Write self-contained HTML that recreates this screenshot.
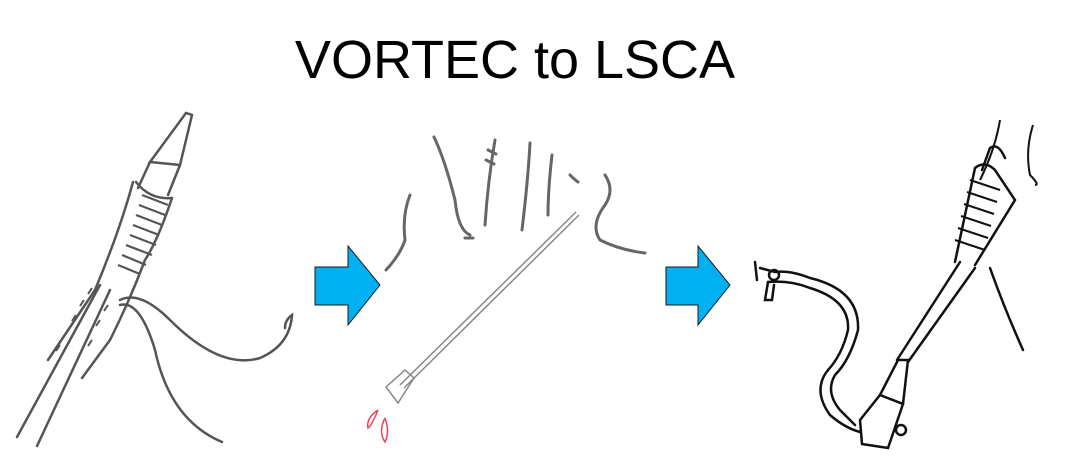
<!DOCTYPE html>
<html><head><style>
body{margin:0;background:#fff;width:1080px;height:471px;overflow:hidden;font-family:"Liberation Sans",sans-serif}
</style></head><body>
<svg width="1080" height="471" viewBox="0 0 1080 471" xmlns="http://www.w3.org/2000/svg">
<text x="515" y="78" font-family="Liberation Sans, sans-serif" font-size="54" text-anchor="middle" fill="#000">VORTEC to LSCA</text>
<polygon points="315,267 348,267 348,246 380,285 348,325 348,305 315,305" fill="#00b0f0" stroke="#1a1a1a" stroke-width="1"/>
<polygon points="666,267 698,267 698,246 730,285 698,325 698,305 666,305" fill="#00b0f0" stroke="#1a1a1a" stroke-width="1"/>
<g fill="none" stroke="#555" stroke-width="2.5" stroke-linecap="round">
<path d="M17,437 L100,285"/>
<path d="M37,446 L110,290"/>
<path d="M150,162 L186,113 L192,115 L180,165 Z"/>
<path d="M150,162 L138,188 M180,165 L168,195"/>
<path d="M136,182 Q150,200 172,198"/>
<path d="M133,182 Q120,230 95,290 L48,360"/>
<path d="M172,198 Q158,240 145,260 Q130,300 110,340 L82,378"/>
<path d="M120,300 Q140,290 170,320 Q220,370 260,358 Q290,345 292,315 Q285,320 285,328"/>
<path d="M120,305 Q140,300 155,350 Q170,420 222,442"/>
</g>
<g fill="none" stroke="#555" stroke-width="2.2">
<path d="M142,195 l26,10 M139,205 l26,10 M136,215 l26,10 M133,225 l26,10 M130,235 l26,10 M126,245 l26,10 M122,255 l24,10 M118,265 l22,9"/>
<path d="M60,345 l-4,6 M68,330 l-4,6 M76,315 l-4,6 M84,300 l-4,6 M92,288 l-4,6 M100,320 l-4,6 M108,305 l-4,6 M92,340 l-4,6" stroke-width="2"/>
</g>
<g fill="none" stroke="#666" stroke-width="3" stroke-linecap="round">
<path d="M386,270 Q400,255 405,240 Q402,215 410,195"/>
<path d="M434,137 Q445,160 455,200 Q458,230 470,235 M465,238 l8,0"/>
<path d="M495,140 Q488,180 485,225 M488,150 l8,4 M486,160 l8,4"/>
<path d="M530,143 Q528,180 522,230 M552,155 Q548,190 548,215"/>
<path d="M570,175 Q575,180 578,182 M605,175 Q615,190 605,205 Q590,225 600,240 Q620,250 645,253"/>
</g>
<g fill="none" stroke="#888" stroke-width="1.5">
<path d="M400,385 L576,212 M404,388 L579,215"/>
<path d="M386,387 L405,370 L414,378 L398,403 Z"/>
</g>
<g fill="none" stroke="#e8465a" stroke-width="1.5">
<path d="M378,410 Q366,418 368,428 Q372,425 378,410 M385,418 Q378,432 385,442 Q390,432 385,418"/>
</g>
<g fill="none" stroke="#111" stroke-width="2.5" stroke-linecap="round">
<path d="M755,262 L757,280 M760,268 L775,272 Q790,270 810,278 Q860,290 858,330 Q850,360 835,375 Q825,392 840,410 Q850,420 855,425"/>
<path d="M768,282 Q790,280 810,288 Q850,300 848,330 Q842,355 828,370 Q812,390 830,415 Q845,428 860,432"/>
<circle cx="774" cy="275" r="5"/>
<path d="M768,282 L765,300 L772,300 L774,285"/>
<path d="M860,420 L880,395 L903,404 L888,448 L862,444 Z"/>
<path d="M880,395 L898,360 L908,360 L903,404"/>
<path d="M897,360 L960,262 M908,362 L975,268"/>
<path d="M955,262 L975,168 Q985,160 995,170 L1015,200 L975,265"/>
<path d="M982,170 L990,148 Q998,142 1005,158"/>
<path d="M990,268 Q1005,310 1023,350"/>
<circle cx="901" cy="430" r="5"/>
</g>
<g fill="none" stroke="#111" stroke-width="2">
<path d="M970,180 l30,10 M967,192 l30,10 M964,204 l30,10 M961,216 l30,10 M958,228 l30,10 M955,240 l30,10"/>
<path d="M1000,120 Q995,150 980,180 M1033,125 Q1025,150 1030,175 Q1040,185 1035,185"/>
</g>
</svg>
</body></html>
